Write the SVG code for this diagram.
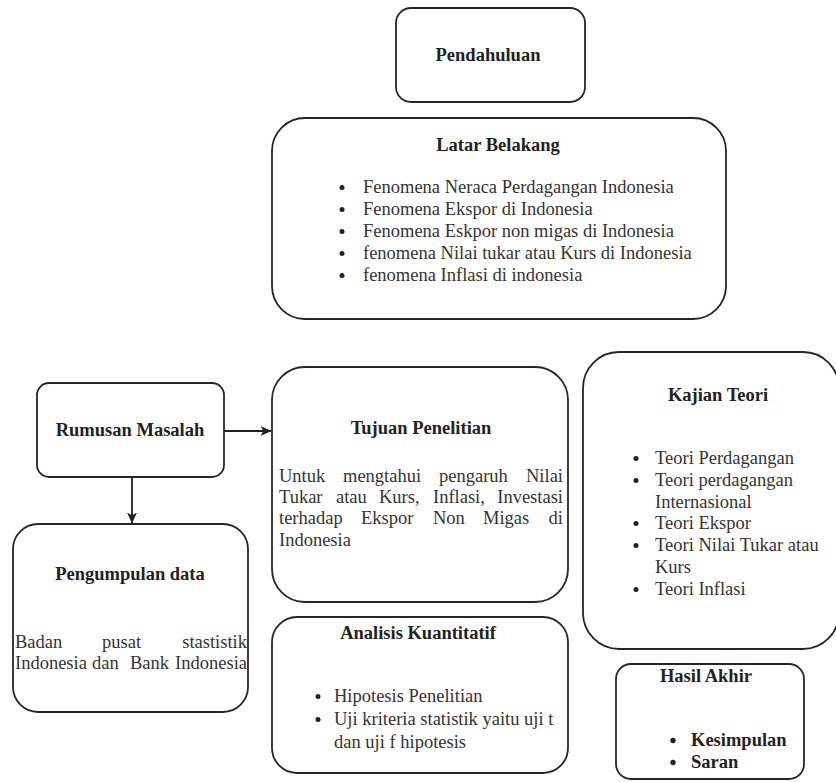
<svg xmlns="http://www.w3.org/2000/svg" width="836" height="782" viewBox="0 0 836 782">
<defs>
<style>
.box{fill:#fff;stroke:#262626;stroke-width:1.8}
.t{font-family:"Liberation Serif","Times New Roman",serif;font-size:18.5px;font-weight:bold;fill:#222}
.b{font-family:"Liberation Serif","Times New Roman",serif;font-size:18.5px;fill:#333}
.bb{font-family:"Liberation Serif","Times New Roman",serif;font-size:18.5px;font-weight:bold;fill:#222}
.dot{fill:#222}
.c{text-anchor:middle}
.e{text-anchor:end}
.edge{fill:none;stroke:#222;stroke-width:1.8}
</style>
<marker id="arr" viewBox="0 0 10 10" refX="9.5" refY="5" markerWidth="11" markerHeight="11" markerUnits="userSpaceOnUse" orient="auto">
<path d="M0,0.5 L10,5 L0,9.5 L2.5,5 Z" fill="#222"/>
</marker>
</defs>
<rect width="836" height="782" fill="#fff"/>

<g id="pendahuluan">
<rect class="box" x="396" y="8" width="189" height="94" rx="15"/>
<text class="t c" x="488" y="61">Pendahuluan</text>
</g>

<g id="latar-belakang">
<rect class="box" x="272" y="118" width="454" height="201" rx="33"/>
<text class="t c" x="498" y="151">Latar Belakang</text>
<circle class="dot" cx="342" cy="187.5" r="2.5"/><text class="b" x="363" y="193">Fenomena Neraca Perdagangan Indonesia</text>
<circle class="dot" cx="342" cy="209.5" r="2.5"/><text class="b" x="363" y="215">Fenomena Ekspor di Indonesia</text>
<circle class="dot" cx="342" cy="231.5" r="2.5"/><text class="b" x="363" y="237">Fenomena Eskpor non migas di Indonesia</text>
<circle class="dot" cx="342" cy="253.5" r="2.5"/><text class="b" x="363" y="259">fenomena Nilai tukar atau Kurs di Indonesia</text>
<circle class="dot" cx="342" cy="275.5" r="2.5"/><text class="b" x="363" y="281">fenomena Inflasi di indonesia</text>
</g>

<g id="rumusan-masalah">
<rect class="box" x="37" y="383" width="187" height="94" rx="12"/>
<text class="t c" x="130" y="436">Rumusan Masalah</text>
</g>

<g id="tujuan-penelitian">
<rect class="box" x="272" y="367" width="296" height="235" rx="33"/>
<text class="t c" x="421" y="434">Tujuan Penelitian</text>
<text class="b" y="482"><tspan x="279">Untuk</tspan><tspan x="343">mengtahui</tspan><tspan x="439">pengaruh</tspan></text>
<text class="b e" x="563" y="482">Nilai</text>
<text class="b" y="503"><tspan x="279">Tukar</tspan><tspan x="336">atau</tspan><tspan x="379">Kurs,</tspan><tspan x="433">Inflasi,</tspan></text>
<text class="b e" x="563" y="503">Investasi</text>
<text class="b" y="524"><tspan x="279">terhadap</tspan><tspan x="361">Ekspor</tspan><tspan x="433">Non</tspan><tspan x="483">Migas</tspan></text>
<text class="b e" x="563" y="524">di</text>
<text class="b" x="279" y="546">Indonesia</text>
</g>

<g id="pengumpulan-data">
<rect class="box" x="13" y="524" width="235" height="188" rx="25"/>
<text class="t c" x="130" y="580">Pengumpulan data</text>
<text class="b" y="648"><tspan x="15">Badan</tspan><tspan x="102">pusat</tspan></text>
<text class="b e" x="247" y="648">stastistik</text>
<text class="b" y="669"><tspan x="15">Indonesia</tspan><tspan x="92">dan</tspan><tspan x="130">Bank</tspan></text>
<text class="b e" x="247" y="669">Indonesia</text>
</g>

<g id="analisis-kuantitatif">
<rect class="box" x="272" y="617" width="296" height="156" rx="25"/>
<text class="t c" x="418" y="639">Analisis Kuantitatif</text>
<circle class="dot" cx="318" cy="696.5" r="2.5"/><text class="b" x="334" y="702">Hipotesis  Penelitian</text>
<circle class="dot" cx="318" cy="719.5" r="2.5"/><text class="b" x="334" y="725">Uji kriteria statistik yaitu uji t</text>
<text class="b" x="334" y="748">dan uji f hipotesis</text>
</g>

<g id="kajian-teori">
<rect class="box" x="583" y="352" width="256" height="297" rx="36"/>
<text class="t c" x="718" y="401">Kajian Teori</text>
<circle class="dot" cx="636" cy="458.5" r="2.5"/><text class="b" x="655" y="464">Teori Perdagangan</text>
<circle class="dot" cx="636" cy="480.5" r="2.5"/><text class="b" x="655" y="486">Teori perdagangan</text>
<text class="b" x="655" y="508">Internasional</text>
<circle class="dot" cx="636" cy="523.5" r="2.5"/><text class="b" x="655" y="529">Teori Ekspor</text>
<circle class="dot" cx="636" cy="545.5" r="2.5"/><text class="b" x="655" y="551">Teori Nilai Tukar atau</text>
<text class="b" x="655" y="573">Kurs</text>
<circle class="dot" cx="636" cy="589.5" r="2.5"/><text class="b" x="655" y="595">Teori Inflasi</text>
</g>

<g id="hasil-akhir">
<rect class="box" x="616" y="664" width="188" height="115" rx="15"/>
<text class="t c" x="706" y="682">Hasil Akhir</text>
<circle class="dot" cx="673" cy="740.5" r="2.7"/><text class="bb" x="691" y="746">Kesimpulan</text>
<circle class="dot" cx="673" cy="762.5" r="2.7"/><text class="bb" x="691" y="768">Saran</text>
</g>

<g id="connectors">
<path class="edge" d="M224,431 L271,431" marker-end="url(#arr)"/>
<path class="edge" d="M132,477 L132,523" marker-end="url(#arr)"/>
</g>
</svg>
